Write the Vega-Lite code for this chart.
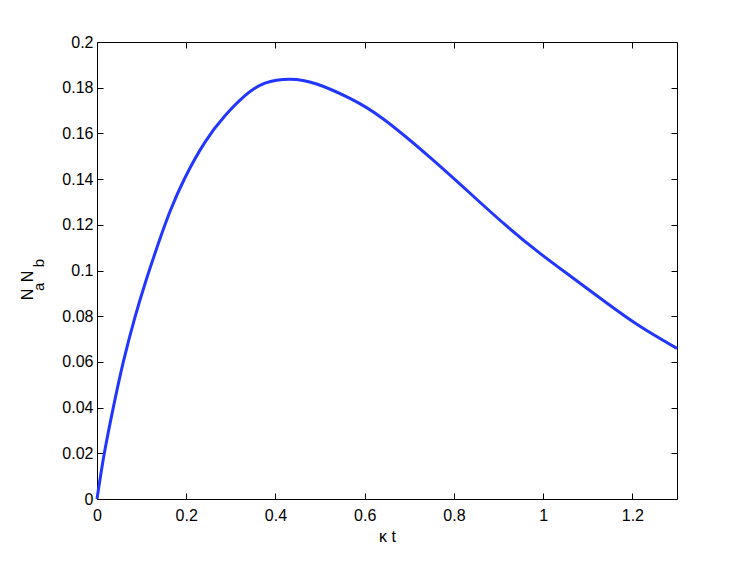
{
  "$schema": "https://vega.github.io/schema/vega-lite/v6.json",
  "width": 580,
  "height": 457,
  "autosize": {"type": "none"},
  "padding": {"left": 97, "top": 42, "right": 70, "bottom": 62},
  "background": "white",
  "config": {
    "font": "Liberation Sans",
    "view": {"stroke": "#000000", "strokeWidth": 1},
    "axis": {
      "grid": false,
      "domain": false,
      "labelFlush": false,
      "labelOverlap": false,
      "tickColor": "#000000",
      "tickWidth": 1,
      "tickSize": -6,
      "labelColor": "#000000",
      "labelFont": "Liberation Sans",
      "labelFontSize": 16,
      "titleFont": "Liberation Sans",
      "titleFontSize": 16,
      "titleFontWeight": "normal",
      "titleColor": "#000000"
    }
  },
  "datasets": {
    "curve": [
      {"t": 0, "v": 0},
      {"t": 0.0164, "v": 0.02},
      {"t": 0.0365, "v": 0.04},
      {"t": 0.059, "v": 0.06},
      {"t": 0.085, "v": 0.0795},
      {"t": 0.1113, "v": 0.0965},
      {"t": 0.1375, "v": 0.1118},
      {"t": 0.1636, "v": 0.1258},
      {"t": 0.1972, "v": 0.1406},
      {"t": 0.2421, "v": 0.1562},
      {"t": 0.2869, "v": 0.1677},
      {"t": 0.3317, "v": 0.1765},
      {"t": 0.3765, "v": 0.1820},
      {"t": 0.4326, "v": 0.1837},
      {"t": 0.4924, "v": 0.1816},
      {"t": 0.567, "v": 0.1753},
      {"t": 0.6417, "v": 0.1663},
      {"t": 0.7464, "v": 0.1495},
      {"t": 0.8435, "v": 0.1325},
      {"t": 0.918, "v": 0.1195},
      {"t": 0.993, "v": 0.1075},
      {"t": 1.0676, "v": 0.0966},
      {"t": 1.1425, "v": 0.0858},
      {"t": 1.217, "v": 0.0756},
      {"t": 1.3, "v": 0.0659}
    ],
    "one": [{"k": 1}]
  },
  "data": {"name": "curve"},
  "layer": [
    {
      "mark": {"type": "line", "color": "#2236ff", "strokeWidth": 3, "interpolate": "natural"},
      "encoding": {
        "x": {
          "field": "t", "type": "quantitative",
          "scale": {"domain": [0, 1.3], "nice": false, "zero": false},
          "axis": {"orient": "bottom", "values": [0, 0.2, 0.4, 0.6, 0.8, 1, 1.2], "format": "~g", "labelFontSize": 16, "labelPadding": 14, "labelFlush": false, "title": "κ t", "titleFontSize": 16, "titlePadding": 5}
        },
        "y": {
          "field": "v", "type": "quantitative",
          "scale": {"domain": [0, 0.2], "nice": false, "zero": false},
          "axis": {"orient": "left", "values": [0, 0.02, 0.04, 0.06, 0.08, 0.1, 0.12, 0.14, 0.16, 0.18, 0.2], "format": "~g", "labelFontSize": 16, "labelPadding": 10, "labelFlush": false, "title": null}
        }
      }
    },
    {
      "mark": {"type": "line", "opacity": 0},
      "encoding": {
        "x": {
          "field": "t", "type": "quantitative",
          "scale": {"domain": [0, 1.3], "nice": false, "zero": false},
          "axis": {"orient": "top", "values": [0, 0.2, 0.4, 0.6, 0.8, 1, 1.2], "labels": false, "title": null}
        },
        "y": {
          "field": "v", "type": "quantitative",
          "scale": {"domain": [0, 0.2], "nice": false, "zero": false},
          "axis": {"orient": "right", "values": [0, 0.02, 0.04, 0.06, 0.08, 0.1, 0.12, 0.14, 0.16, 0.18, 0.2], "labels": false, "title": null}
        }
      }
    },
    {
      "data": {"name": "one"},
      "mark": {"type": "text", "text": "N", "angle": 270, "align": "center", "baseline": "alphabetic", "fontSize": 16, "font": "Liberation Sans", "color": "#000000"},
      "encoding": {
        "x": {"datum": -0.1428, "type": "quantitative", "scale": {"domain": [0, 1.3], "nice": false, "zero": false}, "axis": null},
        "y": {"datum": 0.0895, "type": "quantitative", "scale": {"domain": [0, 0.2], "nice": false, "zero": false}, "axis": null}
      }
    },
    {
      "data": {"name": "one"},
      "mark": {"type": "text", "text": "a", "angle": 270, "align": "center", "baseline": "alphabetic", "fontSize": 15, "font": "Liberation Sans", "color": "#000000"},
      "encoding": {
        "x": {"datum": -0.1177, "type": "quantitative", "scale": {"domain": [0, 1.3], "nice": false, "zero": false}, "axis": null},
        "y": {"datum": 0.0928, "type": "quantitative", "scale": {"domain": [0, 0.2], "nice": false, "zero": false}, "axis": null}
      }
    },
    {
      "data": {"name": "one"},
      "mark": {"type": "text", "text": "N", "angle": 270, "align": "center", "baseline": "alphabetic", "fontSize": 16, "font": "Liberation Sans", "color": "#000000"},
      "encoding": {
        "x": {"datum": -0.1428, "type": "quantitative", "scale": {"domain": [0, 1.3], "nice": false, "zero": false}, "axis": null},
        "y": {"datum": 0.0974, "type": "quantitative", "scale": {"domain": [0, 0.2], "nice": false, "zero": false}, "axis": null}
      }
    },
    {
      "data": {"name": "one"},
      "mark": {"type": "text", "text": "b", "angle": 270, "align": "center", "baseline": "alphabetic", "fontSize": 15, "font": "Liberation Sans", "color": "#000000"},
      "encoding": {
        "x": {"datum": -0.1177, "type": "quantitative", "scale": {"domain": [0, 1.3], "nice": false, "zero": false}, "axis": null},
        "y": {"datum": 0.1033, "type": "quantitative", "scale": {"domain": [0, 0.2], "nice": false, "zero": false}, "axis": null}
      }
    }
  ],
  "resolve": {"axis": {"x": "independent", "y": "independent"}}
}
